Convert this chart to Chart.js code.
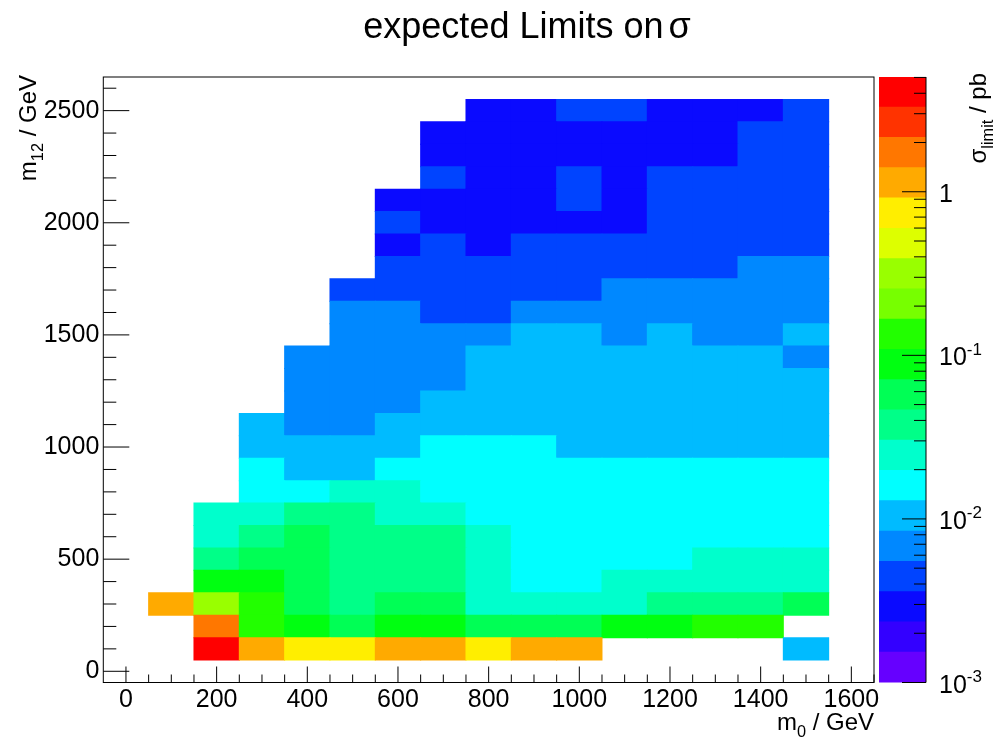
<!DOCTYPE html>
<html>
<head>
<meta charset="utf-8">
<script src="https://cdn.jsdelivr.net/npm/chart.js@4.4.1/dist/chart.umd.min.js"></script>
<style>
  html, body { margin: 0; padding: 0; background: #fff; }
  #wrap { position: relative; width: 1007px; height: 740px; }
  #wrap canvas { position: absolute; top: 0; }
  #main { left: 0; }
  #zbar { left: 877px; }
</style>
</head>
<body>
<div id="wrap">
  <canvas id="main" width="1007" height="740"></canvas>
  <canvas id="zbar" width="130" height="740"></canvas>
</div>
<script>
// bin centres in GeV
const m0 = [100, 200, 300, 400, 500, 600, 700, 800, 900, 1000, 1100, 1200, 1300, 1400, 1500];
const m12 = [100, 200, 300, 400, 500, 600, 700, 800, 900, 1000, 1100, 1200, 1300,
             1400, 1500, 1600, 1700, 1800, 1900, 2000, 2100, 2200, 2300, 2400, 2500];

// expected limit on sigma [pb], one row per m12 bin (same order as m12), null = no point
const sigmaLimit = [
  [null, 5.03, 1.21, 0.78, 0.71, 1.02, 1.08, 0.74, 1.06, 1.12, null, null, null, null, 0.0112],
  [null, 1.76, 0.128, 0.094, 0.064, 0.087, 0.081, 0.061, 0.058, 0.055, 0.079, 0.084, 0.118, 0.131, null],
  [1.18, 0.31, 0.121, 0.058, 0.041, 0.052, 0.049, 0.027, 0.025, 0.026, 0.028, 0.036, 0.035, 0.038, 0.054],
  [null, 0.083, 0.077, 0.052, 0.039, 0.036, 0.034, 0.024, 0.019, 0.018, 0.022, 0.023, 0.024, 0.026, 0.025],
  [null, 0.044, 0.049, 0.047, 0.034, 0.033, 0.032, 0.021, 0.017, 0.016, 0.018, 0.019, 0.021, 0.022, 0.023],
  [null, 0.028, 0.036, 0.048, 0.032, 0.031, 0.031, 0.0205, 0.016, 0.015, 0.016, 0.017, 0.018, 0.018, 0.019],
  [null, 0.026, 0.023, 0.031, 0.031, 0.0265, 0.024, 0.0185, 0.015, 0.0145, 0.015, 0.0155, 0.016, 0.016, 0.017],
  [null, null, 0.019, 0.0195, 0.022, 0.0215, 0.018, 0.016, 0.0145, 0.014, 0.0142, 0.0145, 0.015, 0.015, 0.0155],
  [null, null, 0.0135, 0.0125, 0.0122, 0.0142, 0.0155, 0.0145, 0.0138, 0.0133, 0.0131, 0.0132, 0.0134, 0.0136, 0.0139],
  [null, null, 0.0118, 0.0112, 0.0107, 0.0124, 0.0134, 0.0132, 0.0131, 0.0125, 0.0122, 0.0121, 0.0119, 0.0118, 0.0117],
  [null, null, 0.0101, 0.0082, 0.0079, 0.0096, 0.0108, 0.0112, 0.0115, 0.0113, 0.0111, 0.0108, 0.0106, 0.0104, 0.0102],
  [null, null, null, 0.0074, 0.0071, 0.0080, 0.0092, 0.0101, 0.0104, 0.0102, 0.0100, 0.0098, 0.0097, 0.0095, 0.0094],
  [null, null, null, 0.0066, 0.0063, 0.0071, 0.0080, 0.0092, 0.0095, 0.0094, 0.0093, 0.0091, 0.0090, 0.0089, 0.0087],
  [null, null, null, 0.0061, 0.0058, 0.0064, 0.0071, 0.0086, 0.0089, 0.0088, 0.0087, 0.0086, 0.0086, 0.0085, 0.0081],
  [null, null, null, null, 0.0057, 0.0062, 0.0066, 0.0078, 0.0085, 0.0086, 0.0083, 0.0085, 0.0081, 0.0080, 0.0085],
  [null, null, null, null, 0.0058, 0.0056, 0.0053, 0.0054, 0.0066, 0.0072, 0.0077, 0.0076, 0.0074, 0.0075, 0.0077],
  [null, null, null, null, 0.0052, 0.0049, 0.0047, 0.0048, 0.0051, 0.0053, 0.0062, 0.0064, 0.0063, 0.0066, 0.0069],
  [null, null, null, null, null, 0.0044, 0.0041, 0.0039, 0.0042, 0.0045, 0.0048, 0.0051, 0.0053, 0.0057, 0.0060],
  [null, null, null, null, null, 0.0034, 0.0037, 0.0033, 0.0038, 0.0041, 0.0043, 0.0046, 0.0048, 0.0050, 0.0052],
  [null, null, null, null, null, 0.0037, 0.0032, 0.0030, 0.0031, 0.0034, 0.0035, 0.0040, 0.0043, 0.0045, 0.0047],
  [null, null, null, null, null, 0.0033, 0.0030, 0.0028, 0.0031, 0.0038, 0.0034, 0.0039, 0.0042, 0.0044, 0.0046],
  [null, null, null, null, null, null, 0.0037, 0.0027, 0.0029, 0.0038, 0.0033, 0.0037, 0.0040, 0.0042, 0.0044],
  [null, null, null, null, null, null, 0.0031, 0.0026, 0.0027, 0.0030, 0.0032, 0.0033, 0.0035, 0.0038, 0.0041],
  [null, null, null, null, null, null, 0.0030, 0.0025, 0.0026, 0.0029, 0.0031, 0.0032, 0.0034, 0.0037, 0.0040],
  [null, null, null, null, null, null, null, 0.0026, 0.0027, 0.0037, 0.0038, 0.0031, 0.0032, 0.0034, 0.0039]
];

const xTicks = [0, 200, 400, 600, 800, 1000, 1200, 1400, 1600];
const yTicks = [0, 500, 1000, 1500, 2000, 2500];
const zTicks = [0.001, 0.01, 0.1, 1];
const zTickText = [['10', '-3'], ['10', '-2'], ['10', '-1'], ['1', '']];

// 20 contour colours, lowest first
const palette = ['#6600ff', '#3300ff', '#0a0aff', '#0044ff', '#0088ff', '#00bbff', '#00ffff',
                 '#00ffcc', '#00ff88', '#00ff55', '#00ff11', '#22ff00', '#77ff00', '#99ff00',
                 '#ddff00', '#ffee00', '#ffaa00', '#ff7700', '#ff3300', '#ff0000'];

const binW = 100;
const zMin = 0.001;
const zMax = Math.max(...sigmaLimit.flat().filter(v => v !== null));
const nCont = palette.length;
const FONT = "'Liberation Sans', Arial, Helvetica, sans-serif";

function zColor(v) {
  const f = (Math.log10(v) - Math.log10(zMin)) / (Math.log10(zMax) - Math.log10(zMin));
  return palette[Math.max(0, Math.min(nCont - 1, Math.floor(f * nCont)))];
}

// text with optional subscript / superscript pieces
function textRun(ctx, parts, x, y, size, align) {
  const widths = parts.map(p => {
    ctx.font = (p.sub || p.sup ? size * 0.68 : size) + 'px ' + FONT;
    return ctx.measureText(p.t).width + (p.gap || 0);
  });
  const total = widths.reduce((a, b) => a + b, 0);
  let cx = align === 'right' ? x - total : align === 'center' ? x - total / 2 : x;
  ctx.textAlign = 'left';
  ctx.textBaseline = 'alphabetic';
  parts.forEach((p, i) => {
    ctx.font = (p.sub || p.sup ? size * 0.68 : size) + 'px ' + FONT;
    const dy = p.sub ? size * 0.28 : p.sup ? -size * 0.42 : 0;
    ctx.fillText(p.t, cx + (p.gap || 0), y + dy);
    cx += widths[i];
  });
}

// one floating-bar dataset per m12 row
const datasets = m12.map((yc, r) => {
  const pts = [], cols = [];
  sigmaLimit[r].forEach((v, c) => {
    if (v === null) return;
    pts.push({ x: m0[c], y: [yc - binW / 2, yc + binW / 2] });
    cols.push(zColor(v));
  });
  return { data: pts, backgroundColor: cols, borderWidth: 0, inflateAmount: 0.5,
           grouped: false, barPercentage: 1, categoryPercentage: 1 };
});

const frameAxes = {
  id: 'frameAxes',
  afterDraw(chart) {
    const { ctx, chartArea: a, scales: { x, y } } = chart;
    ctx.save();
    ctx.strokeStyle = '#000';
    ctx.lineWidth = 1;
    ctx.strokeRect(a.left, a.top, a.right - a.left, a.bottom - a.top);
    ctx.beginPath();
    for (let v = 0; v <= 1650; v += 50) {
      const px = x.getPixelForValue(v);
      ctx.moveTo(px, a.bottom);
      ctx.lineTo(px, a.bottom - (v % 200 === 0 ? 16 : 8));
    }
    for (let v = 0; v <= 2650; v += 100) {
      const py = y.getPixelForValue(v);
      ctx.moveTo(a.left, py);
      ctx.lineTo(a.left + (v % 500 === 0 ? 26 : 13), py);
    }
    ctx.stroke();

    ctx.fillStyle = '#000';
    textRun(ctx, [{ t: 'expected Limits on' }, { t: 'σ', gap: 5 }], 527, 38, 36, 'center');
    textRun(ctx, [{ t: 'm' }, { t: '0', sub: true }, { t: ' / GeV' }], a.right, 730, 24, 'right');
    ctx.translate(36, 75);
    ctx.rotate(-Math.PI / 2);
    textRun(ctx, [{ t: 'm' }, { t: '12', sub: true }, { t: ' / GeV' }], 0, 0, 24, 'right');
    ctx.restore();
  }
};

new Chart(document.getElementById('main'), {
  type: 'bar',
  data: { datasets },
  options: {
    responsive: false,
    animation: false,
    events: [],
    layout: { padding: { left: 0, right: 133, top: 77, bottom: 0 } },
    plugins: { legend: { display: false }, tooltip: { enabled: false }, title: { display: false } },
    scales: {
      x: {
        type: 'linear', min: -50, max: 1650, offset: false,
        grid: { display: false, drawTicks: false }, border: { display: false },
        afterBuildTicks: s => { s.ticks = xTicks.map(v => ({ value: v })); },
        afterFit: s => { s.height = 57.5; },
        ticks: { color: '#000', font: { family: FONT, size: 25 }, padding: 3,
                 maxRotation: 0, autoSkip: false, callback: v => String(v) }
      },
      y: {
        type: 'linear', min: -50, max: 2650,
        grid: { display: false, drawTicks: false }, border: { display: false },
        afterBuildTicks: s => { s.ticks = yTicks.map(v => ({ value: v })); },
        afterFit: s => { s.width = 103.3; },
        ticks: { color: '#000', font: { family: FONT, size: 25 }, padding: 4,
                 autoSkip: false, callback: v => String(v) }
      }
    }
  },
  plugins: [frameAxes]
});

// colour scale: one band per contour level
const zEdge = i => zMin * Math.pow(zMax / zMin, i / nCont);
const bands = palette.map((c, i) => ({
  data: [[zEdge(i), zEdge(i + 1)]], backgroundColor: c, borderWidth: 0, inflateAmount: 0.5,
  grouped: false, barPercentage: 1, categoryPercentage: 1
}));

const zAxis = {
  id: 'zAxis',
  afterDraw(chart) {
    const { ctx, chartArea: a, scales: { y } } = chart;
    ctx.save();
    ctx.strokeStyle = '#000';
    ctx.lineWidth = 1;
    ctx.beginPath();
    ctx.moveTo(a.right, a.top);
    ctx.lineTo(a.right, a.bottom);
    for (let d = 0.001; d < zMax; d *= 10) {
      for (let k = 1; k <= 9; k++) {
        const v = d * k;
        if (v > zMax * 1.0001) break;
        const py = y.getPixelForValue(v);
        ctx.moveTo(a.right, py);
        ctx.lineTo(a.right - (k === 1 ? 24 : 12), py);
      }
    }
    ctx.stroke();
    ctx.fillStyle = '#000';
    zTicks.forEach((v, i) => {
      const [base, exp] = zTickText[i];
      const parts = [{ t: base }];
      if (exp) parts.push({ t: exp, sup: true });
      textRun(ctx, parts, a.right + 13, y.getPixelForValue(v) + 10, 25, 'left');
    });
    ctx.translate(109, 73);
    ctx.rotate(-Math.PI / 2);
    textRun(ctx, [{ t: 'σ' }, { t: 'limit', sub: true }, { t: ' / pb' }], 0, 0, 24, 'right');
    ctx.restore();
  }
};

new Chart(document.getElementById('zbar'), {
  type: 'bar',
  data: { labels: [''], datasets: bands },
  options: {
    responsive: false,
    animation: false,
    events: [],
    layout: { padding: { left: 2, right: 81, top: 77, bottom: 57.5 } },
    plugins: { legend: { display: false }, tooltip: { enabled: false } },
    scales: {
      x: { display: false },
      y: { type: 'logarithmic', min: zMin, max: zMax, display: false }
    }
  },
  plugins: [zAxis]
});
</script>
</body>
</html>
